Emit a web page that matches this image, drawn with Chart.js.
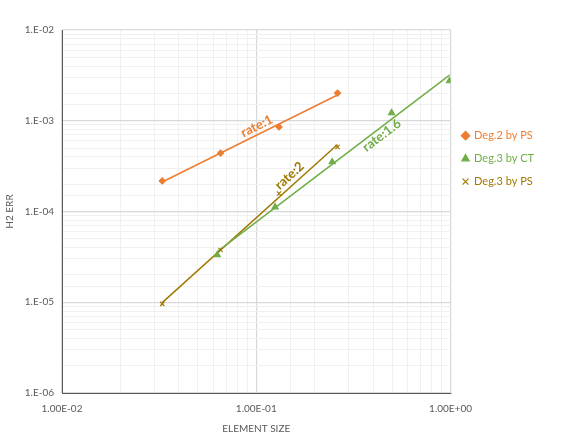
<!DOCTYPE html>
<html>
<head>
<meta charset="utf-8">
<script src="https://cdn.jsdelivr.net/npm/chart.js@4/dist/chart.umd.min.js"></script>
<style>
  html, body { margin: 0; padding: 0; background: #ffffff; }
  #caja { width: 580px; height: 435px; }
</style>
</head>
<body>
<div id="caja"><canvas id="grafica"></canvas></div>
<script>
// datos
const nombres = ["Deg.2 by PS", "Deg.3 by CT", "Deg.3 by PS"];
const tamPS2 = [0.0328, 0.0655, 0.131, 0.262];
const errPS2 = [2.17e-4, 4.40e-4, 8.55e-4, 2.02e-3];
const tamCT3 = [0.063, 0.125, 0.246, 0.497, 0.988];
const errCT3 = [3.32e-5, 1.12e-4, 3.51e-4, 1.22e-3, 2.74e-3];
const tamPS3 = [0.0328, 0.0655, 0.131, 0.262];
const errPS3 = [9.6e-6, 3.77e-5, 1.58e-4, 5.14e-4];
const etiquetas = ["rate:1", "rate:1.6", "rate:2"];
const ticksX = [0.01, 0.1, 1];
const ticksY = [1e-6, 1e-5, 1e-4, 1e-3, 1e-2];

const colores = ["#ED7D31", "#70AD47", "#A07800"];
const fuente = "Lato, 'Open Sans', sans-serif";

function puntos(xs, ys) {
    return xs.map((x, i) => ({ x: x, y: ys[i] }));
}

// ajuste potencial (recta en log-log), como la linea de tendencia de Excel
function ajuste(xs, ys) {
    const lx = xs.map(Math.log10);
    const ly = ys.map(Math.log10);
    const n = lx.length;
    const mx = lx.reduce((a, b) => a + b) / n;
    const my = ly.reduce((a, b) => a + b) / n;
    let sxy = 0, sxx = 0;
    for (let i = 0; i < n; i++) {
        sxy += (lx[i] - mx) * (ly[i] - my);
        sxx += (lx[i] - mx) ** 2;
    }
    const b = sxy / sxx;
    const a = my - b * mx;
    const x0 = Math.min(...xs), x1 = Math.max(...xs);
    return [{ x: x0, y: 10 ** (a + b * Math.log10(x0)) }, { x: x1, y: 10 ** (a + b * Math.log10(x1)) }];
}

function esPotencia(v) {
    const l = Math.log10(v);
    return Math.abs(l - Math.round(l)) < 1e-9;
}

function expo(v) {
    const e = Math.round(Math.log10(v));
    return (e < 0 ? "-" : "+") + String(Math.abs(e)).padStart(2, "0");
}

const series = [
    { x: tamPS2, y: errPS2, estilo: "rectRot", radio: 3 },
    { x: tamCT3, y: errCT3, estilo: "triangle", radio: 3.5 },
    { x: tamPS3, y: errPS3, estilo: "crossRot", radio: 3 }
];

const datasets = [];
series.forEach((s, i) => {
    datasets.push({
        label: nombres[i],
        data: puntos(s.x, s.y),
        showLine: false,
        pointStyle: s.estilo,
        pointRadius: s.radio,
        pointBackgroundColor: colores[i],
        pointBorderColor: colores[i],
        pointBorderWidth: 1.2,
        order: 1
    });
});
series.forEach((s, i) => {
    datasets.push({
        label: "tendencia " + i,
        data: ajuste(s.x, s.y),
        showLine: true,
        borderColor: colores[i],
        borderWidth: 1.5,
        pointRadius: 0,
        order: 2,
        tendencia: true
    });
});

// rotulos de pendiente: fraccion a lo largo de la recta y desplazamiento perpendicular
const rotulos = [
    { texto: etiquetas[0], serie: 3, t: 0.56, d: -8, color: colores[0] },
    { texto: etiquetas[1], serie: 4, t: 0.69, d: 7, color: colores[1] },
    { texto: etiquetas[2], serie: 5, t: 0.76, d: -9, color: colores[2] }
];

const pluginRotulos = {
    id: "rotulos",
    afterDatasetsDraw(chart) {
        const ctx = chart.ctx;
        const sx = chart.scales.x, sy = chart.scales.y;
        rotulos.forEach((r) => {
            const d = chart.data.datasets[r.serie].data;
            const x0 = sx.getPixelForValue(d[0].x), y0 = sy.getPixelForValue(d[0].y);
            const x1 = sx.getPixelForValue(d[1].x), y1 = sy.getPixelForValue(d[1].y);
            const ang = Math.atan2(y1 - y0, x1 - x0);
            const px = x0 + (x1 - x0) * r.t - Math.sin(ang) * r.d;
            const py = y0 + (y1 - y0) * r.t + Math.cos(ang) * r.d;
            ctx.save();
            ctx.translate(px, py);
            ctx.rotate(ang);
            ctx.font = "bold 13px " + fuente;
            ctx.fillStyle = r.color;
            ctx.textAlign = "center";
            ctx.textBaseline = "middle";
            ctx.fillText(r.texto, 0, 0);
            ctx.restore();
        });
    }
};

new Chart(document.querySelector("#grafica"), {
    type: "scatter",
    data: { datasets: datasets },
    options: {
        responsive: true,
        maintainAspectRatio: false,
        animation: false,
        layout: { padding: { top: 30, left: 0, right: 36, bottom: 0 } },
        plugins: {
            tooltip: { enabled: false },
            legend: {
                position: "right",
                align: "start",
                title: { display: true, text: " ", padding: { top: 87, bottom: 0 }, font: { size: 1 } },
                labels: {
                    usePointStyle: true,
                    boxWidth: 6,
                    boxHeight: 6,
                    padding: 12,
                    font: { family: fuente, size: 11 },
                    filter: (item, data) => !data.datasets[item.datasetIndex].tendencia,
                    generateLabels(chart) {
                        const items = Chart.defaults.plugins.legend.labels.generateLabels(chart);
                        return items.map((it) => {
                            it.fontColor = colores[it.datasetIndex];
                            return it;
                        });
                    }
                }
            }
        },
        scales: {
            x: {
                type: "logarithmic",
                min: ticksX[0],
                max: ticksX[ticksX.length - 1],
                afterFit: (s) => { s.height = 42; },
                border: { color: "#595959", width: 1 },
                grid: {
                    color: (c) => esPotencia(c.tick.value) ? "#d9d9d9" : "#f0f0f0",
                    lineWidth: (c) => esPotencia(c.tick.value) ? 1.3 : 1,
                    drawTicks: false
                },
                ticks: {
                    autoSkip: false,
                    maxRotation: 0,
                    padding: 10,
                    color: "#595959",
                    font: { family: fuente, size: 10 },
                    callback: (v) => ticksX.some((t) => Math.abs(t - v) / t < 1e-9) ? "1.00E" + expo(v) : ""
                },
                title: {
                    display: true,
                    text: "ELEMENT SIZE",
                    color: "#595959",
                    font: { family: fuente, size: 10 },
                    padding: { top: 4, bottom: 0 }
                }
            },
            y: {
                type: "logarithmic",
                min: ticksY[0],
                max: ticksY[ticksY.length - 1],
                afterFit: (s) => { s.width = 62; },
                border: { color: "#595959", width: 1 },
                grid: {
                    color: (c) => esPotencia(c.tick.value) ? "#d9d9d9" : "#f0f0f0",
                    lineWidth: (c) => esPotencia(c.tick.value) ? 1.3 : 1,
                    drawTicks: false
                },
                ticks: {
                    autoSkip: false,
                    padding: 8,
                    color: "#595959",
                    font: { family: fuente, size: 10 },
                    callback: (v) => ticksY.some((t) => Math.abs(t - v) / t < 1e-9) ? "1.E" + expo(v) : ""
                },
                title: {
                    display: true,
                    text: "H2 ERR",
                    color: "#595959",
                    font: { family: fuente, size: 10 },
                    padding: { bottom: 6 }
                }
            }
        }
    },
    plugins: [pluginRotulos]
});
</script>
</body>
</html>
